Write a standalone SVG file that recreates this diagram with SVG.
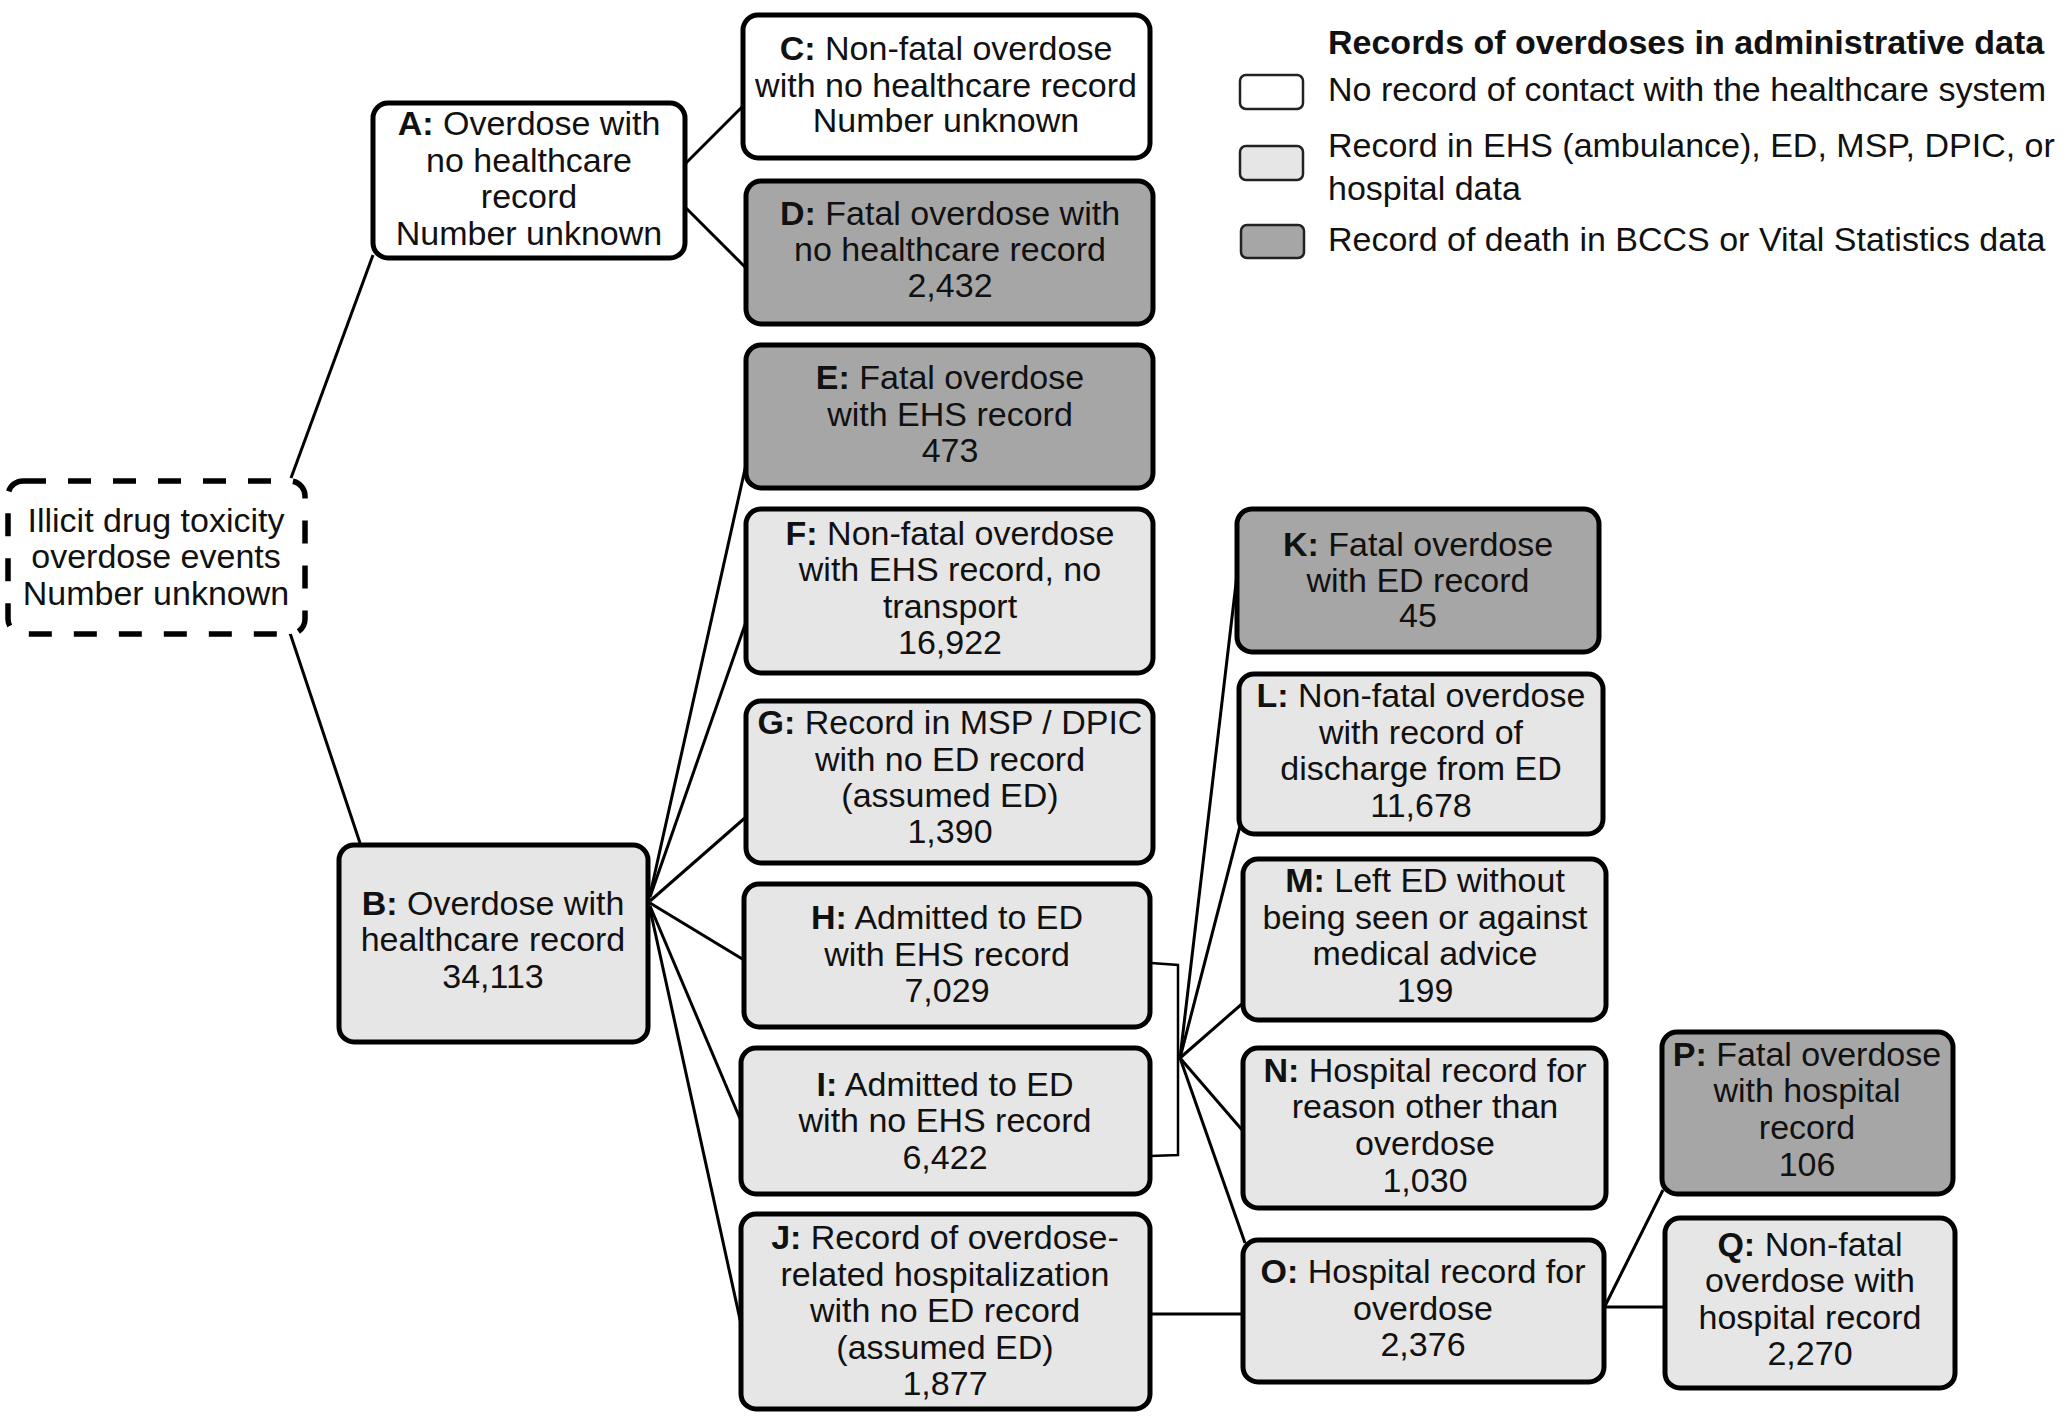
<svg xmlns="http://www.w3.org/2000/svg" width="2070" height="1417" viewBox="0 0 2070 1417">
<style>
.bx{stroke:#000;stroke-width:5}
.w{fill:#ffffff}
.l{fill:#e6e6e6}
.d{fill:#a6a6a6}
.t{font-family:"Liberation Sans",Arial,sans-serif;font-size:34px;fill:#111;text-anchor:middle}
.lg{font-family:"Liberation Sans",Arial,sans-serif;font-size:34px;fill:#111}
.b{font-weight:bold}
.c{stroke:#000;stroke-width:3;fill:none}
.lb{stroke:#222;stroke-width:2.5}
</style>
<rect width="2070" height="1417" fill="#fff"/>
<g id="connectors">
<line class="c" x1="291" y1="478" x2="373" y2="255"/>
<line class="c" x1="290" y1="633" x2="360" y2="843"/>
<line class="c" x1="686" y1="163" x2="742" y2="107"/>
<line class="c" x1="686" y1="208" x2="746" y2="268"/>
<line class="c" x1="650" y1="895" x2="747" y2="460"/>
<line class="c" x1="650" y1="897" x2="747" y2="619"/>
<line class="c" x1="650" y1="901" x2="746" y2="817"/>
<line class="c" x1="650" y1="903" x2="744" y2="960"/>
<line class="c" x1="650" y1="906" x2="741" y2="1121"/>
<line class="c" x1="650" y1="909" x2="741" y2="1324"/>
<path class="c" style="stroke-width:2.5" d="M1151,963 L1178,965 L1178,1155 L1150,1156"/>
<line class="c" x1="1180" y1="1058" x2="1237" y2="575"/>
<line class="c" x1="1180" y1="1058" x2="1240" y2="826"/>
<line class="c" x1="1180" y1="1058" x2="1243" y2="1003"/>
<line class="c" x1="1180" y1="1058" x2="1243" y2="1131"/>
<line class="c" x1="1180" y1="1058" x2="1245" y2="1243"/>
<line class="c" x1="1150" y1="1314" x2="1243" y2="1314"/>
<line class="c" x1="1605" y1="1306" x2="1663" y2="1190"/>
<line class="c" x1="1605" y1="1307" x2="1665" y2="1307"/>
</g>
<g id="start">
<rect x="8" y="481" width="297" height="153" rx="15" fill="#fff" stroke="#000" stroke-width="5.5" stroke-dasharray="23 22"/>
<text class="t"><tspan x="156" y="532">Illicit drug toxicity</tspan><tspan x="156" y="568">overdose events</tspan><tspan x="156" y="605">Number unknown</tspan></text>
</g>
<g id="nodeA">
<rect class="bx w" x="373" y="103" width="312" height="155" rx="15"/>
<text class="t"><tspan x="529" y="135"><tspan class="b">A:</tspan> Overdose with</tspan><tspan x="529" y="171.5">no healthcare</tspan><tspan x="529" y="208">record</tspan><tspan x="529" y="244.5">Number unknown</tspan></text>
</g>
<g id="nodeB">
<rect class="bx l" x="339" y="845" width="309" height="197" rx="15"/>
<text class="t"><tspan x="493" y="915"><tspan class="b">B:</tspan> Overdose with</tspan><tspan x="493" y="951">healthcare record</tspan><tspan x="493" y="988">34,113</tspan></text>
</g>
<g id="nodeC">
<rect class="bx w" x="743" y="15" width="407" height="143" rx="15"/>
<text class="t"><tspan x="946" y="60"><tspan class="b">C:</tspan> Non-fatal overdose</tspan><tspan x="946" y="96.5">with no healthcare record</tspan><tspan x="946" y="132">Number unknown</tspan></text>
</g>
<g id="nodeD">
<rect class="bx d" x="746" y="181" width="407" height="143" rx="15"/>
<text class="t"><tspan x="950" y="225"><tspan class="b">D:</tspan> Fatal overdose with</tspan><tspan x="950" y="261">no healthcare record</tspan><tspan x="950" y="297">2,432</tspan></text>
</g>
<g id="nodeE">
<rect class="bx d" x="746" y="345" width="407" height="143" rx="15"/>
<text class="t"><tspan x="950" y="389"><tspan class="b">E:</tspan> Fatal overdose</tspan><tspan x="950" y="425.5">with EHS record</tspan><tspan x="950" y="462">473</tspan></text>
</g>
<g id="nodeF">
<rect class="bx l" x="746" y="509" width="407" height="164" rx="15"/>
<text class="t"><tspan x="950" y="545"><tspan class="b">F:</tspan> Non-fatal overdose</tspan><tspan x="950" y="581">with EHS record, no</tspan><tspan x="950" y="618">transport</tspan><tspan x="950" y="654">16,922</tspan></text>
</g>
<g id="nodeG">
<rect class="bx l" x="746" y="701" width="407" height="162" rx="15"/>
<text class="t"><tspan x="950" y="734"><tspan class="b">G:</tspan> Record in MSP / DPIC</tspan><tspan x="950" y="771">with no ED record</tspan><tspan x="950" y="807">(assumed ED)</tspan><tspan x="950" y="843">1,390</tspan></text>
</g>
<g id="nodeH">
<rect class="bx l" x="744" y="884" width="406" height="143" rx="15"/>
<text class="t"><tspan x="947" y="929"><tspan class="b">H:</tspan> Admitted to ED</tspan><tspan x="947" y="965.5">with EHS record</tspan><tspan x="947" y="1002">7,029</tspan></text>
</g>
<g id="nodeI">
<rect class="bx l" x="741" y="1048" width="409" height="146" rx="15"/>
<text class="t"><tspan x="945" y="1095.5"><tspan class="b">I:</tspan> Admitted to ED</tspan><tspan x="945" y="1132">with no EHS record</tspan><tspan x="945" y="1169">6,422</tspan></text>
</g>
<g id="nodeJ">
<rect class="bx l" x="741" y="1214" width="409" height="195" rx="15"/>
<text class="t"><tspan x="945" y="1249"><tspan class="b">J:</tspan> Record of overdose-</tspan><tspan x="945" y="1285.5">related hospitalization</tspan><tspan x="945" y="1322">with no ED record</tspan><tspan x="945" y="1358.5">(assumed ED)</tspan><tspan x="945" y="1395">1,877</tspan></text>
</g>
<g id="nodeK">
<rect class="bx d" x="1237" y="509" width="362" height="143" rx="15"/>
<text class="t"><tspan x="1418" y="556"><tspan class="b">K:</tspan> Fatal overdose</tspan><tspan x="1418" y="591.5">with ED record</tspan><tspan x="1418" y="627">45</tspan></text>
</g>
<g id="nodeL">
<rect class="bx l" x="1239" y="674" width="364" height="160" rx="15"/>
<text class="t"><tspan x="1421" y="707"><tspan class="b">L:</tspan> Non-fatal overdose</tspan><tspan x="1421" y="743.5">with record of</tspan><tspan x="1421" y="780">discharge from ED</tspan><tspan x="1421" y="817">11,678</tspan></text>
</g>
<g id="nodeM">
<rect class="bx l" x="1243" y="859" width="363" height="161" rx="15"/>
<text class="t"><tspan x="1425" y="892"><tspan class="b">M:</tspan> Left ED without</tspan><tspan x="1425" y="929">being seen or against</tspan><tspan x="1425" y="965">medical advice</tspan><tspan x="1425" y="1002">199</tspan></text>
</g>
<g id="nodeN">
<rect class="bx l" x="1243" y="1048" width="363" height="160" rx="15"/>
<text class="t"><tspan x="1425" y="1082"><tspan class="b">N:</tspan> Hospital record for</tspan><tspan x="1425" y="1118">reason other than</tspan><tspan x="1425" y="1155">overdose</tspan><tspan x="1425" y="1192">1,030</tspan></text>
</g>
<g id="nodeO">
<rect class="bx l" x="1243" y="1240" width="361" height="142" rx="15"/>
<text class="t"><tspan x="1423" y="1283"><tspan class="b">O:</tspan> Hospital record for</tspan><tspan x="1423" y="1320">overdose</tspan><tspan x="1423" y="1356">2,376</tspan></text>
</g>
<g id="nodeP">
<rect class="bx d" x="1662" y="1032" width="291" height="162" rx="15"/>
<text class="t"><tspan x="1807" y="1066"><tspan class="b">P:</tspan> Fatal overdose</tspan><tspan x="1807" y="1102">with hospital</tspan><tspan x="1807" y="1139">record</tspan><tspan x="1807" y="1175.5">106</tspan></text>
</g>
<g id="nodeQ">
<rect class="bx l" x="1665" y="1218" width="290" height="170" rx="15"/>
<text class="t"><tspan x="1810" y="1256"><tspan class="b">Q:</tspan> Non-fatal</tspan><tspan x="1810" y="1292">overdose with</tspan><tspan x="1810" y="1329">hospital record</tspan><tspan x="1810" y="1365">2,270</tspan></text>
</g>
<g id="legend">
<text class="lg b" x="1328" y="54">Records of overdoses in administrative data</text>
<rect class="lb w" x="1240" y="75" width="63" height="34" rx="6"/>
<text class="lg" x="1328" y="101">No record of contact with the healthcare system</text>
<rect class="lb l" x="1240" y="146" width="63" height="34" rx="6"/>
<text class="lg"><tspan x="1328" y="157">Record in EHS (ambulance), ED, MSP, DPIC, or</tspan><tspan x="1328" y="200">hospital data</tspan></text>
<rect class="lb d" x="1241" y="225" width="63" height="33" rx="6"/>
<text class="lg" x="1328" y="251">Record of death in BCCS or Vital Statistics data</text>
</g>
</svg>
